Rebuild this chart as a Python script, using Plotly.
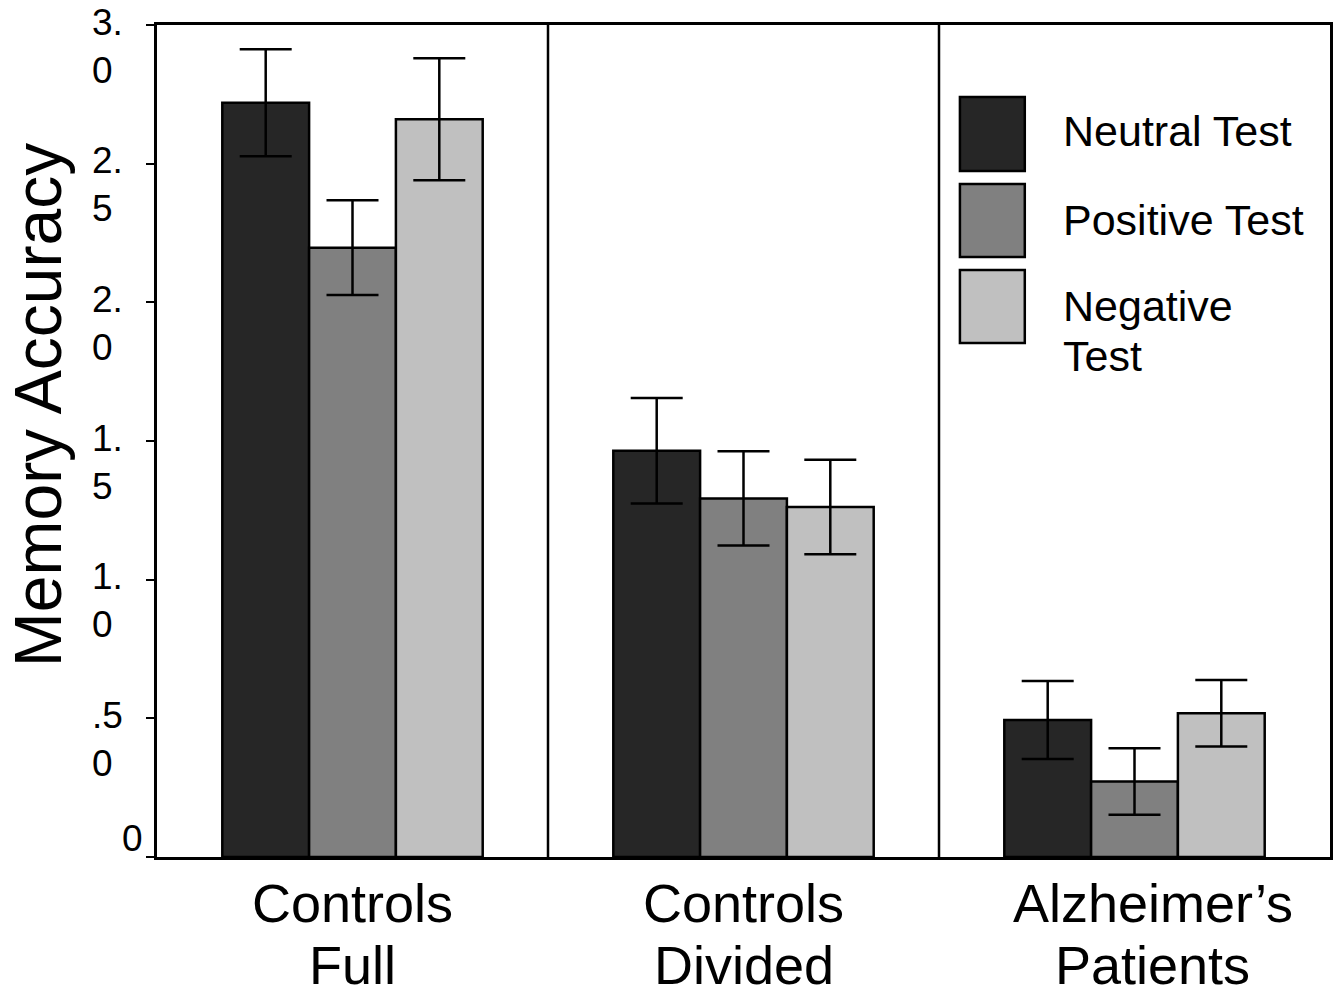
import plotly.graph_objects as go

categories = ["Controls Full", "Controls Divided", "Alzheimer's Patients"]
cat_line1 = ["Controls", "Controls", "Alzheimer’s"]
cat_line2 = ["Full", "Divided", "Patients"]

series_names = ["Neutral Test", "Positive Test", "Negative Test"]
series_colors = ["#262626", "#808080", "#c0c0c0"]

neutral = [2.72, 1.465, 0.494]
positive = [2.197, 1.293, 0.272]
negative = [2.66, 1.262, 0.518]
neutral_err = [0.193, 0.19, 0.141]
positive_err = [0.171, 0.17, 0.12]
negative_err = [0.22, 0.17, 0.12]

tick_vals = [3.0, 2.5, 2.0, 1.5, 1.0, 0.5]
tick_line1 = ["3.", "2.", "2.", "1.", "1.", ".5"]
tick_line2 = ["0", "5", "0", "5", "0", "0"]
zero_label = "0"

FONT = "Liberation Sans, Arial, sans-serif"

values = [neutral, positive, negative]
errors = [neutral_err, positive_err, negative_err]

fig = go.Figure()
for name, col, vals, errs in zip(series_names, series_colors, values, errors):
    fig.add_trace(go.Bar(
        x=categories, y=vals, name=name,
        marker=dict(color=col, line=dict(color="black", width=2.5)),
        error_y=dict(type="data", array=errs, visible=True,
                     color="black", thickness=2.5, width=26),
        showlegend=False,
    ))

annotations = []
# y tick labels (two-line, as in the original)
for v, l1, l2 in zip(tick_vals, tick_line1, tick_line2):
    annotations.append(dict(xref="paper", yref="y", x=0, y=v, text=l1,
                            xanchor="left", yanchor="middle", xshift=-67, yshift=3,
                            showarrow=False, font=dict(family=FONT, size=37, color="black")))
    annotations.append(dict(xref="paper", yref="y", x=0, y=v, text=l2,
                            xanchor="left", yanchor="middle", xshift=-67, yshift=-45,
                            showarrow=False, font=dict(family=FONT, size=37, color="black")))
annotations.append(dict(xref="paper", yref="y", x=0, y=0, text=zero_label,
                        xanchor="right", yanchor="bottom", xshift=-12, yshift=-4,
                        showarrow=False, font=dict(family=FONT, size=37, color="black")))

# x category labels
label_shift = [0, 0, 18]
for c, l1, l2, sh in zip(categories, cat_line1, cat_line2, label_shift):
    annotations.append(dict(xref="x", yref="paper", x=c, y=0, text=l1,
                            xanchor="center", yanchor="middle", yshift=-46, xshift=sh,
                            showarrow=False, font=dict(family=FONT, size=54, color="black")))
    annotations.append(dict(xref="x", yref="paper", x=c, y=0, text=l2,
                            xanchor="center", yanchor="middle", yshift=-108, xshift=sh,
                            showarrow=False, font=dict(family=FONT, size=54, color="black")))

# y axis title
annotations.append(dict(xref="paper", yref="paper", x=0, y=0.543, text="Memory Accuracy",
                        textangle=-90, xanchor="center", yanchor="middle", xshift=-119,
                        showarrow=False, font=dict(family=FONT, size=66, color="black")))

# legend (drawn manually for large swatches)
legend_y = [(0.9135, 0.8245), (0.8089, 0.7212), (0.7055, 0.6178)]
shapes = []
for (y1, y0), col in zip(legend_y, series_colors):
    shapes.append(dict(type="rect", xref="paper", yref="paper",
                       x0=0.6845, x1=0.7398, y0=y0, y1=y1,
                       fillcolor=col, line=dict(color="black", width=2.5)))
legend_text = [("Neutral Test", 0.8726), ("Positive Test", 0.7656),
               ("Negative", 0.6623), ("Test", 0.6022)]
for t, yy in legend_text:
    annotations.append(dict(xref="paper", yref="paper", x=0.7708, y=yy, text=t,
                            xanchor="left", yanchor="middle", showarrow=False,
                            font=dict(family=FONT, size=43, color="black")))

# separators between groups
for xb in [0.5, 1.5]:
    shapes.append(dict(type="line", xref="x", yref="paper", x0=xb, x1=xb, y0=0, y1=1,
                       line=dict(color="black", width=2.5)))

fig.update_layout(
    width=1334, height=985,
    margin=dict(l=149, r=9, t=17, b=136),
    paper_bgcolor="white", plot_bgcolor="white",
    barmode="group", bargap=0.334, bargroupgap=0,
    annotations=annotations, shapes=shapes,
    showlegend=False,
    font=dict(family=FONT, color="black"),
)
fig.update_xaxes(range=[-0.5, 2.5], showline=True, linecolor="black", linewidth=2.5,
                 mirror=True, ticks="", showticklabels=False, showgrid=False, zeroline=False)
fig.update_yaxes(range=[0, 3], showline=True, linecolor="black", linewidth=2.5,
                 mirror=True, ticks="outside", ticklen=8, tickwidth=2, tickcolor="black",
                 tickvals=[0] + tick_vals, showticklabels=False, showgrid=False, zeroline=False)

fig.write_html("out.html")
